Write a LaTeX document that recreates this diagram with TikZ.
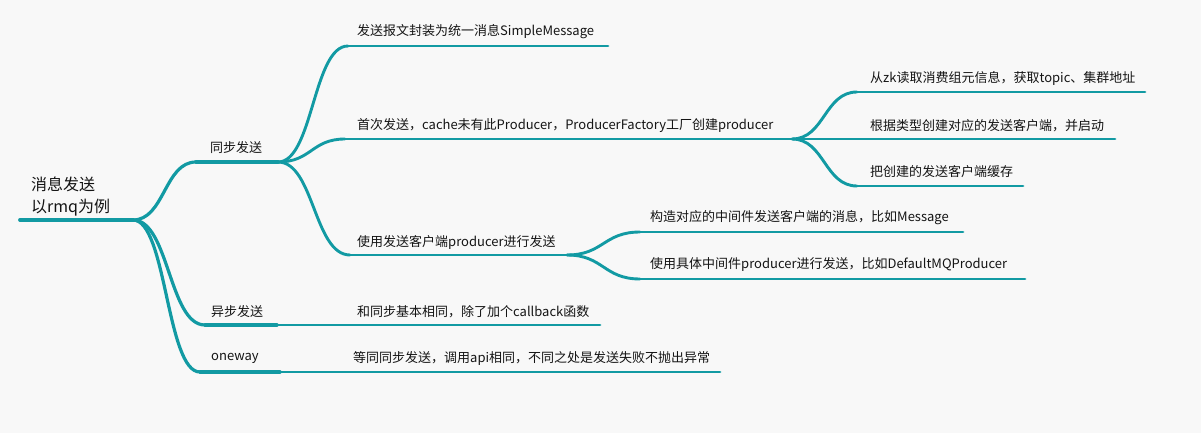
\documentclass[tikz,border=0pt]{standalone}
\usepackage{fontspec}
\setmainfont{Noto Sans CJK SC}
\usetikzlibrary{calc}
\begin{document}
\begin{tikzpicture}[x=1pt,y=-1pt,
  br/.style={draw=teal0,line cap=round},
  l0/.style={br,line width=3.8pt},
  l1/.style={br,line width=3.2pt},
  l2/.style={br,line width=2.9pt},
  lbl/.style={anchor=west,inner sep=0pt,text=txt,font=\fontsize{13}{15}\selectfont},
]
\definecolor{teal0}{RGB}{18,154,163}
\definecolor{txt}{RGB}{20,20,20}
\definecolor{bg}{RGB}{248,248,248}
\fill[bg] (0,0) rectangle (1201,433);
\useasboundingbox (0,0) rectangle (1201,433);
\newcommand{\cv}[3]{% from, to, style
  \draw[#3] let \p1=(#1), \p2=(#2) in (#1) .. controls ({(\x1+\x2)/2},\y1) and ({(\x1+\x2)/2},\y2) .. (#2);}
% coordinates
\coordinate (r0) at (20,220); \coordinate (r1) at (133,220);
\coordinate (s0) at (196,162); \coordinate (s1) at (278,162);
\coordinate (a0) at (205,325); \coordinate (a1) at (277,325);
\coordinate (o0) at (200,372); \coordinate (o1) at (280,372);
\coordinate (m0) at (348,46); \coordinate (m1) at (608,46);
\coordinate (f0) at (345,139); \coordinate (f1) at (792,139);
\coordinate (u0) at (350,255); \coordinate (u1) at (567,255);
\coordinate (z0) at (857,92); \coordinate (z1) at (1145,92);
\coordinate (g0) at (857,139); \coordinate (g1) at (1115,139);
\coordinate (b0) at (857,186); \coordinate (b1) at (1023,186);
\coordinate (c0) at (640,232); \coordinate (c1) at (963,232);
\coordinate (d0) at (640,279); \coordinate (d1) at (1025,279);
\coordinate (h1) at (600,325);
\coordinate (e1) at (720,372);
% labels
\node[lbl,font=\fontsize{16}{22}\selectfont,align=left,anchor=south west] (root) at (31,216) {消息发送\\以rmq为例};
\node[lbl] (sync) at (210,148) {同步发送};
\node[lbl] (async) at (211,312) {异步发送};
\node[lbl] (ow) at (211,358) {oneway};
\node[lbl] (msg) at (357,32) {发送报文封装为统一消息SimpleMessage};
\node[lbl] (first) at (357,126) {首次发送，cache未有此Producer，ProducerFactory工厂创建producer};
\node[lbl] (use) at (357,242) {使用发送客户端producer进行发送};
\node[lbl] (zk) at (870,78) {从zk读取消费组元信息，获取topic、集群地址};
\node[lbl] (gen) at (870,126) {根据类型创建对应的发送客户端，并启动};
\node[lbl] (cache) at (870,172) {把创建的发送客户端缓存};
\node[lbl] (mk) at (650,218) {构造对应的中间件发送客户端的消息，比如Message};
\node[lbl] (dm) at (650,265) {使用具体中间件producer进行发送，比如DefaultMQProducer};
\node[lbl] (same) at (357,312) {和同步基本相同，除了加个callback函数};
\node[lbl] (eq) at (353,358) {等同同步发送，调用api相同，不同之处是发送失败不抛出异常};
% lines
\draw[l0] (r0) -- (r1);
\cv{r1}{s0}{l1} \draw[l1] (s0) -- (s1);
\cv{r1}{a0}{l1} \draw[l1] (a0) -- (a1);
\cv{r1}{o0}{l1} \draw[l1] (o0) -- (o1);
\cv{s1}{m0}{l2} \draw[l2] (m0) -- (m1);
\cv{s1}{f0}{l2} \draw[l2] (f0) -- (f1);
\cv{s1}{u0}{l2} \draw[l2] (u0) -- (u1);
\cv{f1}{z0}{l2} \draw[l2] (z0) -- (z1);
\draw[l2] (f1) -- (g1);
\cv{f1}{b0}{l2} \draw[l2] (b0) -- (b1);
\cv{u1}{c0}{l2} \draw[l2] (c0) -- (c1);
\cv{u1}{d0}{l2} \draw[l2] (d0) -- (d1);
\draw[l2] (a1) -- (h1);
\draw[l2] (o1) -- (e1);
\end{tikzpicture}
\end{document}
